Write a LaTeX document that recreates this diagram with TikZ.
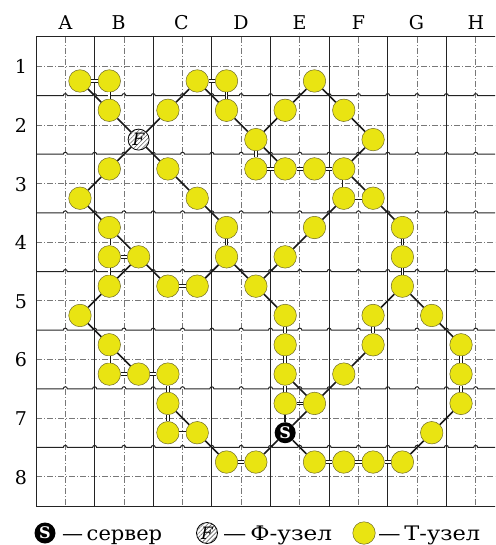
\documentclass[tikz,border=0pt]{standalone}
\usepackage{fontspec}
\usepackage{graphicx}
\setmainfont{DejaVu Serif}
\usetikzlibrary{patterns.meta}

\definecolor{tyel}{RGB}{233,228,18}
\definecolor{tedge}{RGB}{110,105,40}
\definecolor{gridc}{RGB}{35,35,35}
\definecolor{dashc}{RGB}{120,120,120}

\tikzset{
 tnode/.style={circle, minimum size=22.5pt, inner sep=0pt, fill=tyel, draw=tedge, line width=0.5pt},
 fnode/.style={circle, minimum size=21pt, inner sep=0pt, draw=black, line width=0.8pt,
   preaction={fill=white}, pattern={Lines[angle=45,distance=3pt,line width=0.6pt]},
   pattern color=black!60, font=\fontsize{17}{17}\selectfont\itshape},
 snode/.style={circle, minimum size=21pt, inner sep=0pt, fill=black, text=white,
   font=\fontsize{16}{16}\selectfont\bfseries},
 link/.style={draw=black!90, line width=1.6pt},
 dbl/.style={draw=black!90, line width=0.8pt, double=white, double distance=1.8pt},
 solidg/.style={draw=gridc, line width=1.0pt},
 dashg/.style={draw=dashc, line width=0.7pt, dash pattern=on 6pt off 2pt on 1pt off 2pt},
 lab/.style={font=\fontsize{19}{19}\selectfont, inner sep=0pt},
 leg/.style={font=\fontsize{20}{20}\selectfont, inner sep=0pt, anchor=base west},
}

\begin{document}
\begin{tikzpicture}[x=1pt,y=-1pt]
\useasboundingbox (0,0) rectangle (495,545);
\clip (0,0) rectangle (495,545);
\def\s{29.3125}
% dashed mid lines
\foreach \k in {0,...,7} {
  \draw[dashg] ({36+\s*(2*\k+1)},37) -- ({36+\s*(2*\k+1)},506);
  \draw[dashg] (36,{37+\s*(2*\k+1)}) -- (505,{37+\s*(2*\k+1)});
}
% solid lines
\foreach \k in {0,...,8} \draw[solidg] ({36+2*\s*\k},37) -- ({36+2*\s*\k},506);
\draw[solidg] (36,37) -- (505,37);
\draw[solidg] (36,506) -- (505,506);
\foreach \k in {1,...,7} {
  \pgfmathsetmacro\yy{37+2*\s*\k}
  \draw[solidg] (36,\yy) \foreach \j in {1,...,15} { -- ({36+\s*\j-2},\yy) arc[start angle=180,end angle=360,radius=2] } -- (505,\yy);
}
% labels
\foreach \L/\x in {A/65.5,B/118.5,C/181.5,D/241,E/299.5,F/358.5,G/416.5,H/476} \node[lab, anchor=base] (c\L) at (\x,29.5) {\L};
\foreach \k in {1,...,8} \node[lab, anchor=base] (r\k) at (21,{37+\s*(2*\k-1)+7.5}) {\k};
% T nodes
\foreach \c/\r in {1/1,2/1,5/1,6/1,9/1,
  2/2,4/2,6/2,8/2,10/2,
  7/3,11/3,
  2/4,4/4,7/4,8/4,9/4,10/4,
  1/5,5/5,10/5,11/5,
  2/6,6/6,9/6,12/6,
  2/7,3/7,6/7,8/7,12/7,
  2/8,4/8,5/8,7/8,12/8,
  1/9,8/9,11/9,13/9,
  2/10,8/10,11/10,14/10,
  2/11,3/11,4/11,8/11,10/11,14/11,
  4/12,8/12,9/12,14/12,
  4/13,5/13,13/13,
  6/14,7/14,9/14,10/14,11/14,12/14}
  \node[tnode] (n\c-\r) at ({36+\s*(\c+0.5)},{37+\s*(\r+0.5)}) {};
\node[fnode] (fn) at ({36+\s*3.5},{37+\s*3.5}) {F};
\node[snode] (sv) at ({36+\s*8.5},{37+\s*13.5}) {S};
% single links
\foreach \a/\b in {1-1/2-2, 4-2/5-1, 5-1/6-2, 6-2/7-3, 7-3/8-2, 8-2/9-1, 9-1/10-2, 10-2/11-3,
  11-3/10-4, 7-3/8-4, 10-4/11-5, 2-4/1-5, 4-4/5-5, 1-5/2-6, 2-6/3-7, 3-7/2-8, 3-7/4-8,
  5-8/6-7, 5-5/6-6, 6-7/7-8, 10-5/9-6, 9-6/8-7, 8-7/7-8, 7-8/8-9, 11-5/12-6, 12-8/11-9,
  12-8/13-9, 13-9/14-10, 11-10/10-11, 10-11/9-12, 8-11/9-12, 2-8/1-9, 1-9/2-10, 2-10/3-11,
  4-12/5-13, 5-13/6-14, 14-12/13-13, 13-13/12-14}
  \draw[link] (n\a) -- (n\b);
\foreach \a in {2-2,4-2,4-4,2-4} \draw[link] (fn) -- (n\a);
\foreach \a in {8-12,9-12,7-14,9-14} \draw[link] (sv) -- (n\a);
% double links
\foreach \a/\b in {1-1/2-1, 2-1/2-2, 5-1/6-1, 6-1/6-2, 7-3/7-4, 7-4/8-4, 8-4/9-4, 9-4/10-4,
  10-4/10-5, 10-5/11-5, 2-6/2-7, 2-7/3-7, 2-7/2-8, 4-8/5-8, 6-6/6-7, 12-6/12-7, 12-7/12-8,
  11-9/11-10, 8-9/8-10, 8-10/8-11, 8-11/8-12, 8-12/9-12, 2-10/2-11, 2-11/3-11, 3-11/4-11,
  4-11/4-12, 4-12/4-13, 4-13/5-13, 14-10/14-11, 14-11/14-12, 6-14/7-14, 9-14/10-14,
  10-14/11-14, 11-14/12-14}
  \draw[dbl] (n\a) -- (n\b);
% legend
\node[snode] (ls) at (45,533) {S};
\node[leg] (lst) at (62,540) {\resizebox{100pt}{\height}{—\,сервер}};
\node[fnode] (lf) at (207,533) {F};
\node[leg] (lft) at (223,540) {\resizebox{109pt}{\height}{—\,Ф-узел}};
\node[tnode] (lt) at (364,533) {};
\node[leg] (ltt) at (378,540) {\resizebox{102pt}{\height}{—\,Т-узел}};
\end{tikzpicture}
\end{document}
